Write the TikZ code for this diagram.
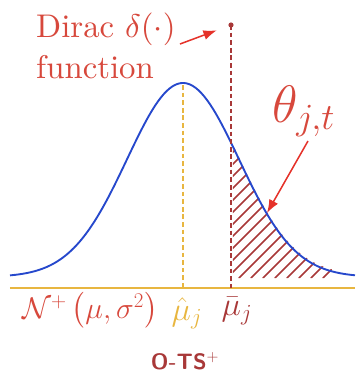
\RequirePackage{fix-cm}
\documentclass[tikz,border=0pt]{standalone}
\usepackage{amsmath,amssymb,graphicx}
\usetikzlibrary{arrows.meta, positioning}
\definecolor{labelred}{HTML}{D7483C}
\definecolor{arrowred}{HTML}{E5322A}
\definecolor{curveblue}{HTML}{2648CC}
\definecolor{meanyellow}{HTML}{E8B640}
\definecolor{darkred}{HTML}{A83838}
\newcommand{\bigtext}[1]{\scalebox{2.8}{\fontsize{10}{12}\selectfont #1}}

\begin{document}
\begin{tikzpicture}[
    x=0.03cm, y=-0.03cm,
    note/.style={text=labelred, inner sep=0pt},
    pointer/.style={draw=arrowred, line width=1.3pt, -{Latex[length=4mm, width=3mm]}},
    meanline/.style={dash pattern=on 4pt off 2.5pt, line width=1.6pt},
    hatch/.style={draw=darkred, line width=1.5pt, line cap=round},
    hand/.style={inner sep=0pt, font=\fontsize{28}{30}\selectfont}
]
\useasboundingbox (0,0) rectangle (357,379);
% axis and density
\coordinate (axl) at (10,288);
\coordinate (axr) at (355,288);
\draw[meanyellow, line width=1.6pt] (axl) -- (axr);
\begin{scope}
  \clip (233,278) -- plot[domain=233:332, samples=60] (\x, {275-194*exp(-0.5*((\x-183)/56)^2)}) -- (332,278) -- cycle;
  \foreach \a in {95,107,...,340}
    \draw[hatch] (\a,278) -- (\a+150,128);
\end{scope}
\draw[curveblue, line width=1.6pt] plot[domain=10:355, samples=120] (\x, {277-194*exp(-0.5*((\x-183)/56)^2)});
% mean lines
\coordinate (hatmu) at (183,85);
\coordinate (hatmuaxis) at (183,288);
\coordinate (dirac) at (231,25);
\coordinate (baraxis) at (231,288);
\draw[meanline, meanyellow] (hatmu) -- (hatmuaxis);
\draw[meanline, darkred] (dirac) -- (baraxis);
\fill[darkred] (dirac) circle (2.2pt);
% labels
\node[note, anchor=base west] (diractext) at (36,37) {\bigtext{Dirac $\delta(\cdot)$}};
\node[note, anchor=base west] (functext) at (36,78) {\bigtext{function}};
\node[note, anchor=base west, font=\fontsize{45}{50}\selectfont] (theta) at (272,122) {$\theta_{j,t}$};
\node[note, anchor=base west, font=\fontsize{25.5}{28}\selectfont] (normal) at (22,318) {$\mathcal{N}^{+}\left(\mu,\sigma^{2}\right)$};
\node[hand, text=meanyellow, anchor=north] (muhat) at (187,297) {$\hat{\mu}_{j}$};
\node[hand, text=darkred, anchor=north] (mubar) at (237,297) {$\bar{\mu}_{j}$};
\node[hand, text=darkred, font=\sffamily\bfseries\fontsize{19}{22}\selectfont] (ots) at (185,361) {O-TS$^{+}$};
% pointers
\coordinate (diracfrom) at (180,44);
\coordinate (thetafrom) at (308,141);
\coordinate (curvept) at (267,213);
\draw[pointer, shorten >=13pt] (diracfrom) -- (dirac);
\draw[pointer] (thetafrom) -- (curvept);
\end{tikzpicture}
\end{document}
